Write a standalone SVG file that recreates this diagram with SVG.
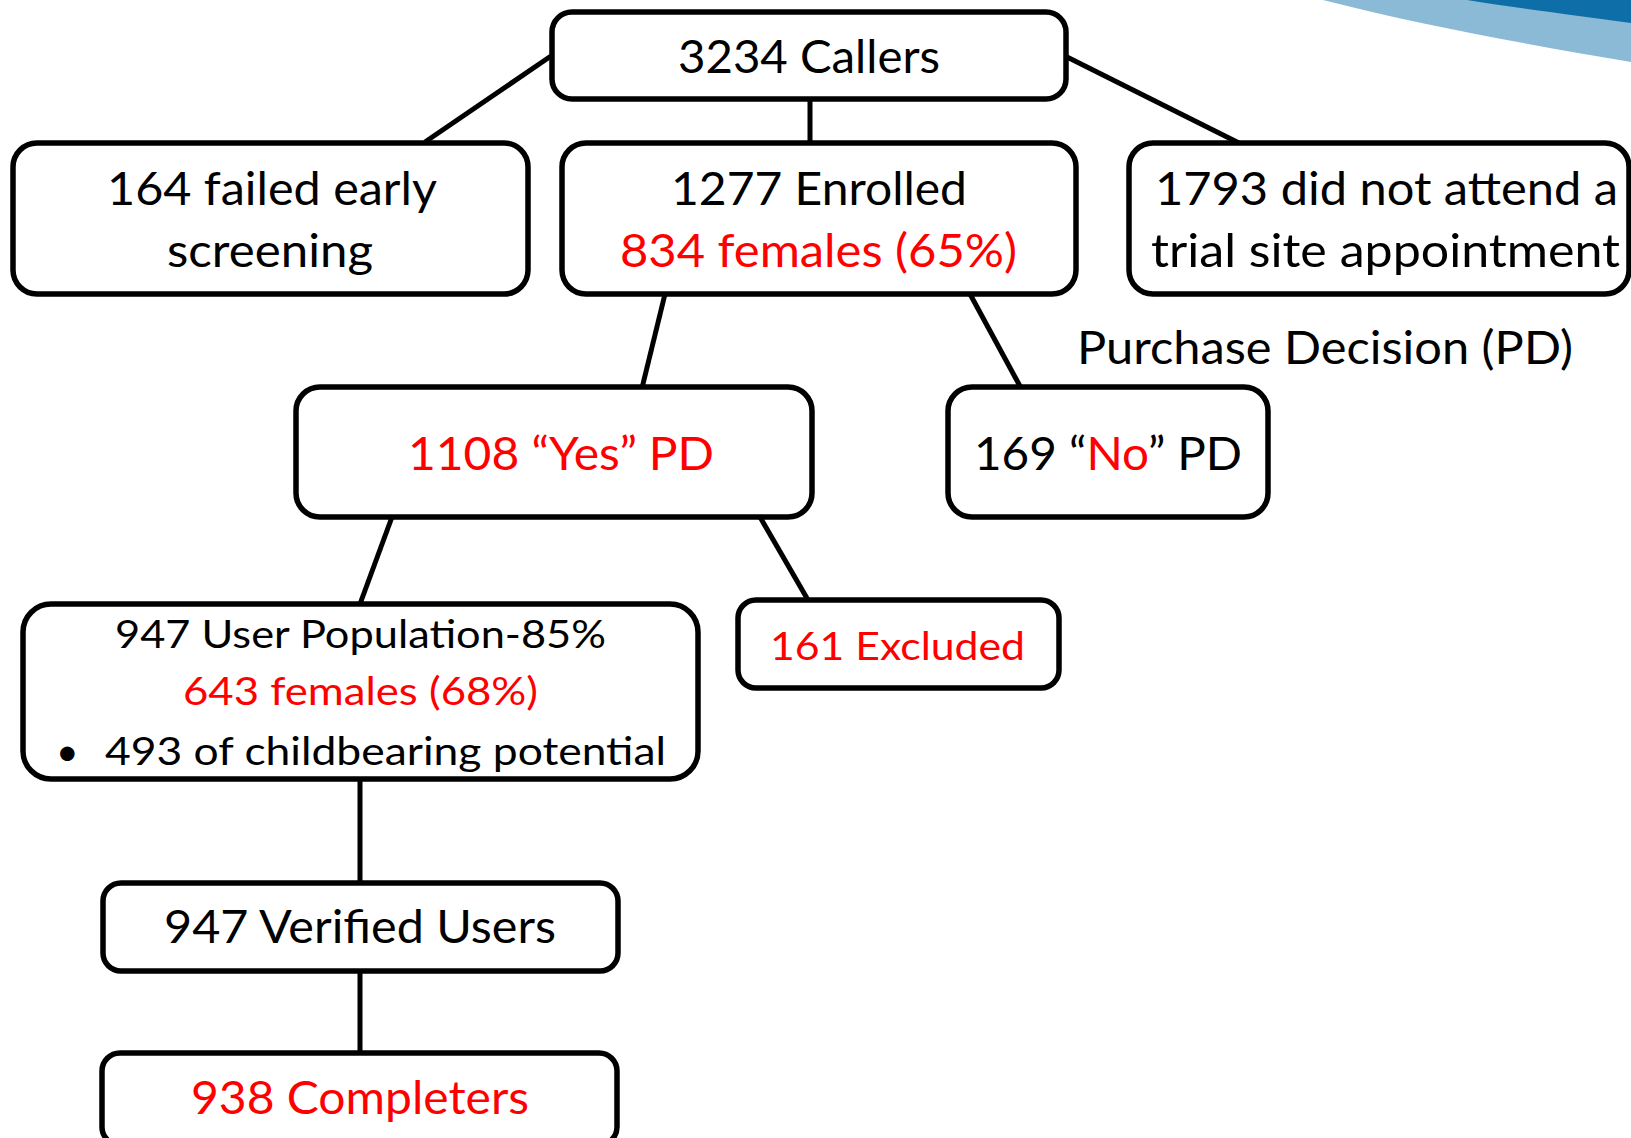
<svg xmlns="http://www.w3.org/2000/svg" width="1631" height="1138" viewBox="0 0 1631 1138">
<style>
.box{fill:#fff;stroke:#000;stroke-width:5.5}
.con{stroke:#000;stroke-width:5;fill:none}
.t{font-family:Lato,"Open Sans","DejaVu Sans",sans-serif;fill:#000}
.b{font-size:46px}
.s{font-size:39px}
.r{fill:#ff0000}
</style>
<rect width="1631" height="1138" fill="#fff"/>
<g id="swoosh">
<path d="M1323,0 L1631,0 L1631,62 C1530,45 1420,25 1323,0 Z" fill="#8bbad6"/>
<path d="M1467,0 C1530,10 1580,16 1631,23 L1631,0 Z" fill="#0e6ea7"/>
</g>
<g id="connectors">
<line class="con" x1="551" y1="56" x2="425" y2="142"/>
<line class="con" x1="810" y1="99" x2="810" y2="143"/>
<line class="con" x1="1067" y1="57" x2="1239" y2="143"/>
<line class="con" x1="665" y1="294" x2="642" y2="388"/>
<line class="con" x1="970" y1="294" x2="1021" y2="388"/>
<line class="con" x1="392" y1="517" x2="360" y2="604"/>
<line class="con" x1="760" y1="517" x2="808" y2="600"/>
<line class="con" x1="360" y1="779" x2="360" y2="883"/>
<line class="con" x1="360" y1="971" x2="360" y2="1053"/>
</g>
<g id="callers">
<rect class="box" x="552" y="12" width="514" height="87" rx="20"/>
<text class="t b" x="678" y="73" textLength="262" lengthAdjust="spacingAndGlyphs">3234 Callers</text>
</g>
<g id="failed">
<rect class="box" x="13" y="143" width="515" height="151" rx="24"/>
<text class="t b" x="107" y="205" textLength="330" lengthAdjust="spacingAndGlyphs">164 failed early</text>
<text class="t b" x="167" y="267" textLength="206" lengthAdjust="spacingAndGlyphs">screening</text>
</g>
<g id="enrolled">
<rect class="box" x="562" y="143" width="514" height="151" rx="24"/>
<text class="t b" x="671" y="205" textLength="296" lengthAdjust="spacingAndGlyphs">1277 Enrolled</text>
<text class="t b r" x="620" y="267" textLength="397" lengthAdjust="spacingAndGlyphs">834 females (65%)</text>
</g>
<g id="noattend">
<rect class="box" x="1129" y="143" width="500" height="151" rx="24"/>
<text class="t b" x="1155" y="205" textLength="463" lengthAdjust="spacingAndGlyphs">1793 did not attend a</text>
<text class="t b" x="1151" y="267" textLength="469" lengthAdjust="spacingAndGlyphs">trial site appointment</text>
</g>
<g id="pdlabel">
<text class="t b" x="1077" y="364" textLength="496" lengthAdjust="spacingAndGlyphs">Purchase Decision (PD)</text>
</g>
<g id="yes">
<rect class="box" x="296" y="387" width="516" height="130" rx="24"/>
<text class="t b r" x="408" y="470" textLength="306" lengthAdjust="spacingAndGlyphs">1108 “Yes” PD</text>
</g>
<g id="no">
<rect class="box" x="948" y="387" width="320" height="130" rx="24"/>
<text class="t b" x="974" y="470" textLength="268" lengthAdjust="spacingAndGlyphs">169 “<tspan class="r">No</tspan>” PD</text>
</g>
<g id="userpop">
<rect class="box" x="23" y="604" width="675" height="175" rx="28"/>
<text class="t s" x="115" y="648" textLength="491" lengthAdjust="spacingAndGlyphs">947 User Population-85%</text>
<text class="t s r" x="183" y="705" textLength="355" lengthAdjust="spacingAndGlyphs">643 females (68%)</text>
<text class="t s" x="56" y="765">•</text>
<text class="t s" x="105" y="765" textLength="561" lengthAdjust="spacingAndGlyphs">493 of childbearing potential</text>
</g>
<g id="excluded">
<rect class="box" x="738" y="600" width="321" height="88" rx="18"/>
<text class="t s r" x="770" y="660" textLength="255" lengthAdjust="spacingAndGlyphs">161 Excluded</text>
</g>
<g id="verified">
<rect class="box" x="103" y="883" width="515" height="88" rx="18"/>
<text class="t b" x="164" y="943" textLength="392" lengthAdjust="spacingAndGlyphs">947 Verified Users</text>
</g>
<g id="completers">
<rect class="box" x="102" y="1053" width="515" height="92" rx="18"/>
<text class="t b r" x="191" y="1114" textLength="338" lengthAdjust="spacingAndGlyphs">938 Completers</text>
</g>
</svg>
